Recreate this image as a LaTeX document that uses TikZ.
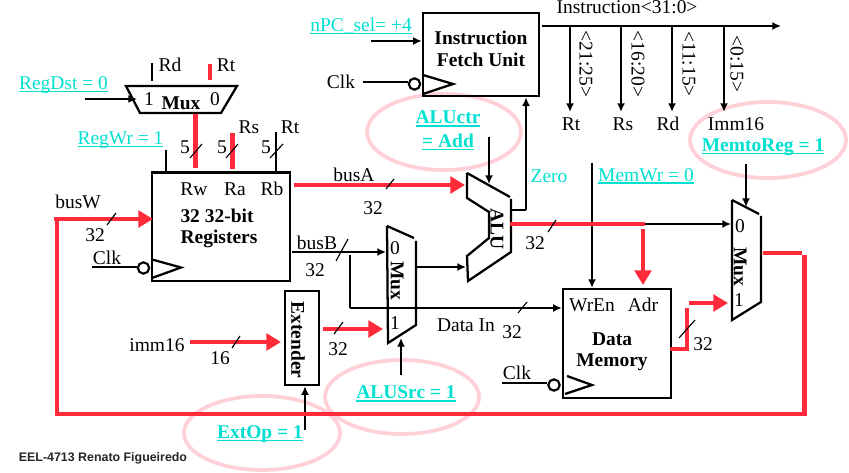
\documentclass[tikz,border=0pt]{standalone}
\usepackage{fontspec}
\setmainfont{Liberation Serif}
\newfontfamily\footfont{Liberation Sans}
\usetikzlibrary{calc,arrows.meta}
\definecolor{busred}{HTML}{FF2A3A}
\definecolor{ctrlcyan}{HTML}{00E0D0}
\definecolor{ringpink}{HTML}{FFD0D8}
\newcommand{\ctrltext}[1]{\setbox0\hbox{#1}\rlap{\rule[-2.2pt]{\wd0}{1.2pt}}\box0}

\begin{document}
\begin{tikzpicture}[
  x=.75pt, y=-.75pt,
  every node/.style={inner sep=0pt, font=\fontsize{14.6}{16}\selectfont},
  wire/.style={draw=black, line width=1.6pt, -{Latex[length=6.5pt,width=6pt]}},
  plainwire/.style={draw=black, line width=1.6pt},
  redbus/.style={draw=busred, line width=3.6pt},
  redarrow/.style={redbus, -{Triangle[length=11pt,width=12.5pt]}},
  slash/.style={draw=black, line width=.85pt},
  muxline/.style={draw=black, line width=1.7pt},
  boxnode/.style={draw=black, line width=1.8pt, fill=none},
  ring/.style={draw=ringpink, line width=2.8pt},
  bubble/.style={circle, draw=black, line width=1.6pt, minimum size=8.5pt},
  boldtext/.style={font=\fontsize{14.6}{16}\selectfont\bfseries},
  ctrl/.style={text=ctrlcyan},
  boldctrl/.style={text=ctrlcyan, font=\fontsize{14.6}{16}\selectfont\bfseries}
]
\useasboundingbox (0,0) rectangle (849,473);

\draw[ring] (444,132) ellipse [x radius=77, y radius=38];
\draw[ring] (768,140) ellipse [x radius=78, y radius=38];
\draw[ring] (262,433) ellipse [x radius=78, y radius=37];
\draw[ring] (402,397) ellipse [x radius=77, y radius=37];

\node[boxnode, minimum width=103.5pt, minimum height=81.5pt] (regs) at (221,226.7) {};
\node[boxnode, minimum width=87pt, minimum height=62.5pt] (ifu) at (481,54.5) {};
\node[boxnode, minimum width=25.5pt, minimum height=70.5pt] (extender) at (302,338) {};
\node[boxnode, minimum width=81pt, minimum height=81.5pt] (dmem) at (617,343.5) {};

\node[bubble] (regbub) at (143.5,268) {};
\node[bubble] (ifubub) at (414.5,84) {};
\node[bubble] (membub) at (554,385) {};

\node[boldtext] (regsa) at (217,216) {32 32-bit};
\node[boldtext] (regsb) at (219,239) {Registers};
\node[boldtext] (ifua) at (481,38) {Instruction};
\node[boldtext] (ifub) at (481,60) {Fetch Unit};
\node[boldtext, rotate=-90] (exttxt) at (298,340) {Extender};
\node[boldtext] (dmema) at (612,339) {Data};
\node[boldtext] (dmemb) at (612,362) {Memory};
\node (wrentxt) at (592,305) {WrEn};
\node (adrtxt) at (643,305) {Adr};
\node (rwtxt) at (194,189) {Rw};
\node (ratxt) at (235,189) {Ra};
\node (rbtxt) at (272,189) {Rb};

\coordinate (rmA) at (126,86); \coordinate (rmB) at (237,86);
\coordinate (rmC) at (221,113); \coordinate (rmD) at (140,113);
\draw[muxline] (rmA) -- (rmB) -- (rmC) -- (rmD) -- cycle;
\node[boldtext] (rmtxt) at (181,103) {Mux};
\node (rmone) at (149,99) {1};
\node (rmzero) at (215,99) {0};

\coordinate (bmA) at (387,226); \coordinate (bmB) at (414,238);
\coordinate (bmC) at (416,241); \coordinate (bmD) at (416,325); \coordinate (bmE) at (388,343);
\draw[muxline] (bmA) -- (bmB) (bmC) -- (bmD) -- (bmE) -- (bmA);
\node[boldtext, rotate=-90] (bmtxt) at (397,281) {Mux};
\node (bmzero) at (395,248) {0};
\node (bmone) at (395,323) {1};

\coordinate (wmA) at (732,200); \coordinate (wmB) at (759,214);
\coordinate (wmC) at (761,216); \coordinate (wmD) at (761,302); \coordinate (wmE) at (732,320);
\draw[muxline] (wmA) -- (wmB) (wmC) -- (wmD) -- (wmE) -- (wmA);
\node[boldtext, rotate=-90] (wmtxt) at (740,267) {Mux};
\node (wmzero) at (740,226) {0};
\node (wmone) at (739,300) {1};

\coordinate (aluA) at (467,173); \coordinate (aluB) at (510,197);
\coordinate (aluC) at (511,199); \coordinate (aluD) at (511,252); \coordinate (aluE) at (468,281);
\coordinate (aluF) at (467,256); \coordinate (aluG) at (489,238);
\coordinate (aluH) at (489,212); \coordinate (aluI) at (467,198);
\draw[muxline] (aluA) -- (aluB) (aluC) -- (aluD) -- (aluE) -- (aluF) -- (aluG) -- (aluH) -- (aluI) -- (aluA);
\node[boldtext, rotate=-90] (alutxt) at (497,229) {ALU};

\draw[muxline] (152,259.5) -- (181,267.5) -- (152,278);
\draw[muxline] (423,75) -- (453,84) -- (423,94);
\draw[muxline] (567,376) -- (592,385) -- (565,394);

\node (rdtxt) at (170,65) {Rd};
\node (rttxt) at (226,65) {Rt};
\node (rstxt) at (249,127) {Rs};
\node (rtbtxt) at (290,127) {Rt};
\node (fivea) at (185,147) {5};
\node (fiveb) at (222,147) {5};
\node (fivec) at (266,147) {5};
\node[ctrl] (regdst) at (63.5,85) {\ctrltext{RegDst = 0}};
\node[ctrl] (regwr) at (120.5,140) {\ctrltext{RegWr = 1}};
\node[ctrl] (npcsel) at (361,26) {\ctrltext{nPC\_sel= +4}};
\node[boldctrl] (aluctrA) at (448,119) {\ctrltext{ALUctr}};
\node[boldctrl] (aluctrB) at (448,142) {\ctrltext{= Add}};
\node[boldctrl] (memtoreg) at (763,147) {\ctrltext{MemtoReg = 1}};
\node[boldctrl] (alusrc) at (406,394) {\ctrltext{ALUSrc = 1}};
\node[boldctrl] (extop) at (260,434) {\ctrltext{ExtOp = 1}};
\node[ctrl] (zerotxt) at (549,176) {Zero};
\node[ctrl] (memwr) at (646,176) {\ctrltext{MemWr = 0}};

\node (instrtxt) at (627,7) {Instruction<31:0>};
\node (busatxt) at (354,175) {busA};
\node (busbtxt) at (317,243) {busB};
\node (buswtxt) at (78,202) {busW};
\node (imtxt) at (157,345) {imm16};
\node (dintxt) at (466,325) {Data In};
\node (clkr) at (107,258) {Clk};
\node (clki) at (341,82) {Clk};
\node (clkm) at (517,373) {Clk};
\node (wA) at (373,208) {32};
\node (wB) at (315,270) {32};
\node (wC) at (95,235) {32};
\node (wD) at (338,349) {32};
\node (wE) at (535,243) {32};
\node (wF) at (512,332) {32};
\node (wG) at (703,344) {32};
\node (wH) at (220,358) {16};
\node (tagrt) at (571,124) {Rt};
\node (tagrs) at (623,124) {Rs};
\node (tagrd) at (668,124) {Rd};
\node (tagim) at (736,124) {Imm16};
\node[rotate=-90] (ina) at (586,64) {<21:25>};
\node[rotate=-90] (inb) at (638,64) {<16:20>};
\node[rotate=-90] (inc) at (689,64) {<11:15>};
\node[rotate=-90] (ind) at (737,64) {<0:15>};
\node[font=\fontsize{9.3}{11}\selectfont\footfont\bfseries, text=black!85] (credit) at (103,458) {EEL-4713 Renato Figueiredo};

\coordinate (rdtop) at (152,63); \coordinate (rdend) at (152,81);
\coordinate (rttop) at (210,64); \coordinate (rtend) at (210,80);
\coordinate (dstin) at (85,99); \coordinate (dstend) at (137,99);
\coordinate (rwtop) at (195.5,114); \coordinate (rwend) at (195.5,168);
\coordinate (ratop) at (232.5,133); \coordinate (raend) at (232.5,169);
\coordinate (rbtop) at (276,132); \coordinate (rbend) at (276,171);
\coordinate (wrtop) at (166,150); \coordinate (wrend) at (166,172);
\draw[plainwire] (rdtop) -- (rdend);
\draw[redbus] (rttop) -- (rtend);
\draw[wire] (dstin) -- (dstend);
\draw[redbus] (rwtop) -- (rwend);
\draw[redbus] (ratop) -- (raend);
\draw[plainwire] (rbtop) -- (rbend);
\draw[plainwire] (wrtop) -- (wrend);

\coordinate (clkrin) at (92,267); \coordinate (clkiin) at (363,82); \coordinate (clkmin) at (502,383);
\draw[plainwire] (clkrin) -- (regbub.west |- clkrin);
\draw[plainwire] (clkiin) -- (ifubub.west |- clkiin);
\draw[plainwire] (clkmin) -- (membub.west |- clkmin);

\coordinate (npcin) at (371,41);
\draw[wire] (npcin) -- (ifu.west |- npcin);
\coordinate (instrout) at (542,26); \coordinate (instrend) at (781,26);
\draw[wire] (instrout) -- (instrend);
\foreach \tapname/\tapx in {rt/570, rs/621, rd/672, im/724}{
  \coordinate (tap\tapname) at (\tapx,26);
  \coordinate (end\tapname) at (\tapx,112);
  \draw[wire] (tap\tapname) -- (end\tapname);
}

\coordinate (busAout) at (294,185); \coordinate (busAend) at (465,185);
\draw[redarrow] (busAout) -- (busAend);
\coordinate (busBout) at (292,252); \coordinate (busBend) at (386,252);
\draw[wire] (busBout) -- (busBend);
\coordinate (dinup) at (350,255); \coordinate (dinturn) at (350,308);
\draw[plainwire] (dinup) -- (dinturn);
\draw[wire] (dinturn) -- (dmem.west |- dinturn);
\coordinate (bmout) at (417,267); \coordinate (bmend) at (466,267);
\draw[wire] (bmout) -- (bmend);

\coordinate (immin) at (190,342); \coordinate (immend) at (281,342);
\draw[redarrow] (immin) -- (immend);
\coordinate (extout) at (323,329); \coordinate (extend) at (383,329);
\draw[redarrow] (extout) -- (extend);
\coordinate (srcin) at (401,375); \coordinate (srcend) at (401,338);
\draw[wire] (srcin) -- (srcend);
\coordinate (opin) at (305,430);
\draw[wire] (opin) -- (extender.south -| opin);

\coordinate (ctrin) at (489,137); \coordinate (ctrend) at (489,184);
\draw[wire] (ctrin) -- (ctrend);
\coordinate (zeroout) at (511,210); \coordinate (zeroturn) at (526,210);
\draw[plainwire] (zeroout) -- (zeroturn);
\draw[wire] (zeroturn) -- (ifu.south -| zeroturn);

\coordinate (wrin) at (592,163);
\draw[wire] (wrin) -- (dmem.north -| wrin);
\coordinate (mtrin) at (746,164); \coordinate (mtrend) at (746,207);
\draw[wire] (mtrin) -- (mtrend);

\coordinate (aluout) at (510,224); \coordinate (alusplit) at (645,224); \coordinate (aluend) at (731,224);
\draw[wire] (alusplit) -- (aluend);
\draw[redbus] (aluout) -- (alusplit);
\coordinate (adrin) at (643,229); \coordinate (adrend) at (643,285);
\draw[redarrow] (adrin) -- (adrend);

\coordinate (memout) at (670,349); \coordinate (memturn) at (687,349); \coordinate (memup) at (687,308);
\draw[redbus] (memout) -- (memturn) -- (memup);
\coordinate (memB) at (689,303); \coordinate (memend) at (728,303);
\draw[redarrow] (memB) -- (memend);

\coordinate (wbstart) at (763,253); \coordinate (wbtop) at (802,253);
\coordinate (wbrun) at (804.5,255.5); \coordinate (wbbot) at (804.5,414);
\coordinate (wbleft) at (57,414); \coordinate (wbup) at (57,219); \coordinate (wbend) at (153,219);
\draw[redbus] (wbstart) -- (wbtop);
\draw[redbus] (wbrun) -- (wbbot) -- (wbleft) -- (wbup);
\draw[redarrow] (wbup) ++(-1.9pt,0) -- (wbend);

\foreach \sx/\sy/\ex/\ey in {190/158/202/144, 226/158/238/144, 270/158/283/144,
  386/189/394/179, 107/225/116/213, 336/261/348/239, 232/348/240/336, 334/334/343/322,
  548/232/556/220, 518/313/527/302, 679/338/695/320}{
  \draw[slash] (\sx,\sy) -- (\ex,\ey);
}
\end{tikzpicture}
\end{document}
